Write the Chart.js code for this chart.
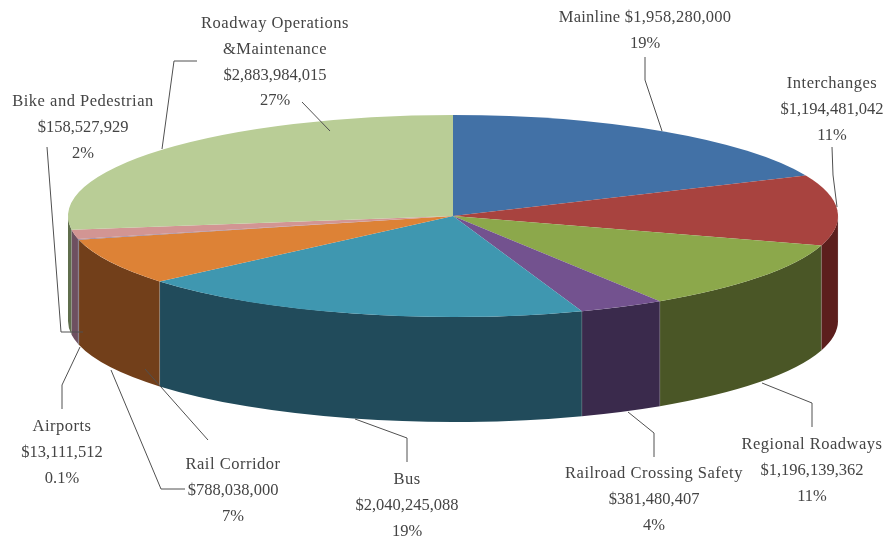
<!DOCTYPE html>
<html>
<head>
<meta charset="utf-8">
<style>html,body{margin:0;padding:0;background:#fff}canvas{display:block;filter:blur(0.4px)}</style>
<script src="https://cdn.jsdelivr.net/npm/chart.js@4/dist/chart.umd.min.js"></script>
</head>
<body>
<canvas id="c" width="883" height="539"></canvas>
<script>
const categories = ["Mainline","Interchanges","Regional Roadways","Railroad Crossing Safety","Bus","Rail Corridor","Airports","Bike and Pedestrian","Roadway Operations &Maintenance"];
const values = [1958280000,1194481042,1196139362,381480407,2040245088,788038000,13111512,158527929,2883984015];
const percentLabels = ["19%","11%","11%","4%","19%","7%","0.1%","2%","27%"];
const topColors = ["#4271A6","#A8433F","#8CA84B","#73528F","#3F97B0","#DD8236","#8C7A9A","#D29593","#B9CD96"];
const wallColors = ["#2A4766","#5C1F1D","#4A5626","#3A2A4C","#214B5B","#723F1A","#4F4458","#6E5060","#5F6E4C"];

// Layout of the pseudo-3D projection and the annotation text (not data)
const RX = 385, TILT = 0.2623, DEPTH = 105;
const labelLayout = [
  {x:645, y:18, lines:v=>["Mainline "+v, "%"]},
  {x:832, y:84, lines:v=>["Interchanges", v, "%"]},
  {x:812, y:445, lines:v=>["Regional Roadways", v, "%"]},
  {x:654, y:474, lines:v=>["Railroad Crossing Safety", v, "%"]},
  {x:407, y:480, lines:v=>["Bus", v, "%"]},
  {x:233, y:465, lines:v=>["Rail Corridor", v, "%"]},
  {x:62,  y:427, lines:v=>["Airports", v, "%"]},
  {x:83,  y:102, lines:v=>["Bike and Pedestrian", v, "%"]},
  {x:275, y:24,  lines:v=>["Roadway Operations", "&Maintenance", v, "%"]}
];
const leaders = [
  [[645,57],[645,80],[662,131]],
  [[832,147],[833,175],[837,207]],
  [[812,427],[812,403],[762,383]],
  [[654,457],[654,433],[628,412]],
  [[407,462],[407,438],[355,419]],
  [[208,440],[145,369]],
  [[185,489],[161,489],[111,370]],
  [[62,409],[62,385],[80,347]],
  [[47,147],[61,332],[83,332]],
  [[197,61],[174,61],[162,149]],
  [[302,102],[330,131]]
];

const pie3d = {
  id:'pie3d',
  beforeDatasetsDraw(chart){
    const ctx = chart.ctx, arcs = chart.getDatasetMeta(0).data;
    const cx = arcs[0].x, cy = arcs[0].y;
    ctx.save();
    arcs.forEach((a,i)=>{
      const s = Math.max(a.startAngle,0), e = Math.min(a.endAngle,Math.PI);
      if (e <= s) return;
      const r = a.outerRadius, ry = r*TILT;
      ctx.beginPath();
      ctx.ellipse(cx,cy,r,ry,0,s,e,false);
      ctx.lineTo(cx+r*Math.cos(e),cy+ry*Math.sin(e)+DEPTH);
      ctx.ellipse(cx,cy+DEPTH,r,ry,0,e,s,true);
      ctx.closePath();
      ctx.fillStyle = wallColors[i];
      ctx.fill();
      ctx.strokeStyle = 'rgba(190,190,190,0.35)';
      ctx.lineWidth = 0.7;
      ctx.beginPath();
      ctx.moveTo(cx+r*Math.cos(s),cy+ry*Math.sin(s));
      ctx.lineTo(cx+r*Math.cos(s),cy+ry*Math.sin(s)+DEPTH);
      ctx.stroke();
    });
    ctx.restore();
    ctx.save();
    ctx.translate(cx,cy);
    ctx.scale(1,TILT);
    ctx.translate(-cx,-cy);
  },
  afterDatasetsDraw(chart){
    const ctx = chart.ctx;
    ctx.restore();
    ctx.save();
    ctx.strokeStyle = '#505050';
    ctx.lineWidth = 1;
    leaders.forEach(p=>{
      ctx.beginPath();
      p.forEach((q,i)=> i ? ctx.lineTo(q[0],q[1]) : ctx.moveTo(q[0],q[1]));
      ctx.stroke();
    });
    ctx.fillStyle = '#444444';
    ctx.font = '16.5px "Liberation Serif"';
    ctx.textAlign = 'center';
    ctx.textBaseline = 'middle';
    values.forEach((v,i)=>{
      const amount = '$'+v.toLocaleString('en-US');
      const lay = labelLayout[i];
      lay.lines(amount).forEach((t,j)=>{
        const hasLetters = /[A-Za-z]/.test(t), hasDigits = /\d/.test(t);
        ctx.letterSpacing = hasLetters ? (hasDigits ? '0.25px' : '0.5px') : '0px';
        ctx.fillText(t==='%'?percentLabels[i]:t, lay.x, lay.y+j*25.6);
      });
    });
    ctx.restore();
  }
};

new Chart(document.getElementById('c').getContext('2d'),{
  type:'pie',
  data:{labels:categories,datasets:[{
    data:values,
    backgroundColor:topColors,
    borderWidth:0,
    radius:RX,
    clip:false
  }]},
  options:{
    responsive:false,
    animation:false,
    layout:{padding:{left:23,right:0,top:0,bottom:107}},
    plugins:{legend:{display:false},tooltip:{enabled:false},title:{display:false}}
  },
  plugins:[pie3d]
});
</script>
</body>
</html>
